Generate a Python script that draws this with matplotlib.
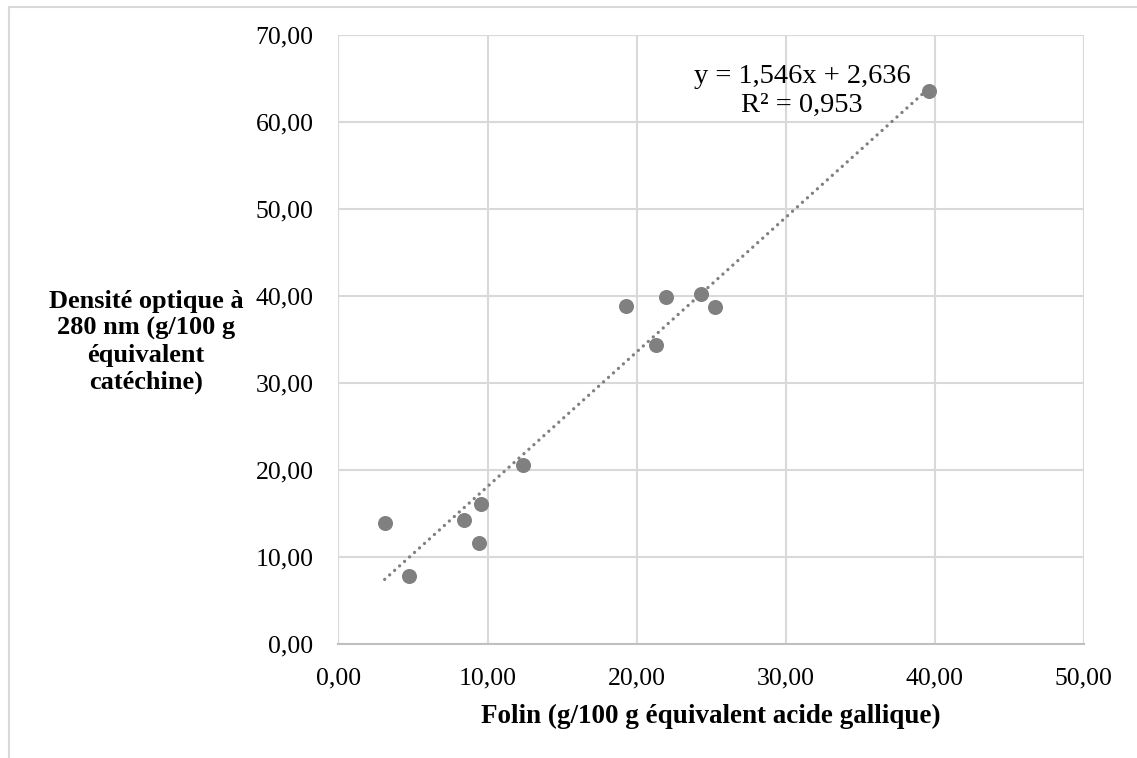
import numpy as np
import matplotlib.pyplot as plt
from matplotlib.patches import Rectangle

# Data
folin = [3.10, 4.71, 8.45, 9.54, 9.45, 12.38, 19.30, 21.33, 21.98, 24.33, 25.25, 39.63]
densite = [13.94, 7.82, 14.29, 16.09, 11.57, 20.61, 38.85, 34.33, 39.89, 40.23, 38.77, 63.60]

# Linear trend shown on the chart
slope = 1.546
intercept = 2.636
r2 = 0.953

x_ticks = [0, 10, 20, 30, 40, 50]
y_ticks = [0, 10, 20, 30, 40, 50, 60, 70]

x_title = 'Folin (g/100 g équivalent acide gallique)'
y_title = 'Densité optique à\n280 nm (g/100 g\néquivalent\ncatéchine)'

plt.rcParams['font.family'] = ['Liberation Serif', 'DejaVu Serif']

fig = plt.figure(figsize=(11.37, 7.58), dpi=100)
ax = fig.add_axes([0.2977, 0.1504, 0.6553, 0.8034])

grey = '#808080'
grid_col = '#d9d9d9'

# trendline over the data range
xs = np.array([min(folin), max(folin)])
ax.plot(xs, slope * xs + intercept, color=grey, lw=2.4,
        linestyle=(0, (0.01, 2.0)), dash_capstyle='round', zorder=2)
ax.plot(folin, densite, 'o', color=grey, markersize=9.8, zorder=3)

fmt = lambda v: f'{v:.2f}'.replace('.', ',')
ax.set_xlim(0, 50)
ax.set_ylim(0, 70)
ax.set_xticks(x_ticks)
ax.set_xticklabels([fmt(v) for v in x_ticks])
ax.set_yticks(y_ticks)
ax.set_yticklabels([fmt(v) for v in y_ticks])
ax.tick_params(axis='both', length=0, labelsize=18.5, colors='black')
ax.tick_params(axis='x', pad=17)
ax.tick_params(axis='y', pad=18)

ax.grid(True, color=grid_col, lw=1.5, zorder=0)
ax.set_axisbelow(True)
for side in ['top', 'right', 'left']:
    ax.spines[side].set_visible(False)
ax.spines['bottom'].set_color('#bfbfbf')
ax.spines['bottom'].set_linewidth(1.5)
ax.axvline(50, color=grid_col, lw=1.5, zorder=0)
ax.axhline(70, color=grid_col, lw=1.5, zorder=0)
ax.axvline(0, color=grid_col, lw=1.5, zorder=0)

eq = f'y = {slope:.3f}x + {intercept:.3f}'.replace('.', ',') + '\n' + f'R² = {r2:.3f}'.replace('.', ',')
ax.text(31.1, 63.6, eq, ha='center', va='center', multialignment='center',
        fontsize=20.5, linespacing=1.18)

fig.text(0.6253, 0.0462, x_title, ha='center', va='baseline', fontsize=19.5, fontweight='bold')
fig.text(0.1284, 0.549, y_title, ha='center', va='center', multialignment='center',
         fontsize=19, fontweight='bold', linespacing=1.2)

# outer chart frame (left and top edges visible)
fig.patches.append(Rectangle((9 / 1137, -0.05), 1.1, 1 - 6.5 / 758 + 0.05,
                             transform=fig.transFigure, fill=False,
                             edgecolor=grid_col, lw=1.5))

fig.savefig('out.png', dpi=100)
